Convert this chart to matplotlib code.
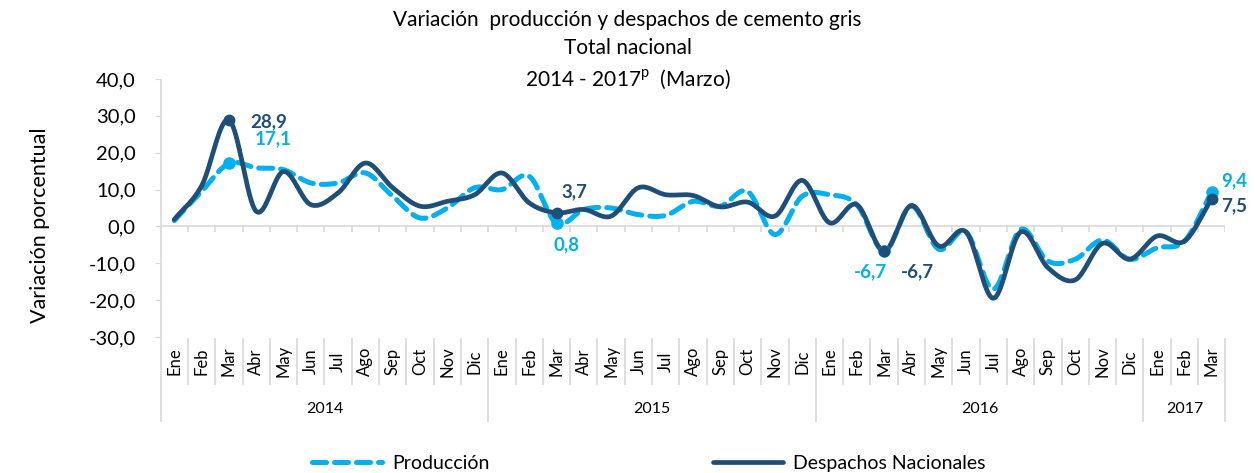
import numpy as np
import matplotlib
matplotlib.use('Agg')
import matplotlib.pyplot as plt
from matplotlib.lines import Line2D

plt.rcParams['font.family'] = ['Lato', 'DejaVu Sans']
plt.rcParams['mathtext.fontset'] = 'custom'
plt.rcParams['mathtext.rm'] = 'Lato'

# data
meses = ['Ene', 'Feb', 'Mar', 'Abr', 'May', 'Jun', 'Jul', 'Ago', 'Sep', 'Oct', 'Nov', 'Dic'] * 3 + ['Ene', 'Feb', 'Mar']
anios = ['2014', '2015', '2016', '2017']
meses_por_anio = [12, 12, 12, 3]

produccion = [1.6, 9.5, 17.1, 15.9, 15.4, 11.8, 11.8, 14.5, 8.2, 2.3, 5.0, 10.5,
              10.0, 13.6, 0.8, 4.6, 5.0, 3.2, 3.0, 6.8, 5.5, 9.5, -2.2, 8.2,
              8.6, 5.9, -6.7, 5.5, -6.2, -1.5, -17.0, -0.8, -9.4, -8.9, -3.7, -8.9,
              -5.8, -4.0, 9.4]
despachos = [1.9, 11.0, 28.9, 4.1, 14.9, 5.9, 9.1, 17.2, 10.5, 5.5, 6.8, 8.6,
             14.5, 6.4, 3.7, 4.6, 2.8, 10.5, 8.6, 8.4, 5.3, 6.6, 2.8, 12.5,
             1.0, 5.9, -6.7, 5.7, -5.3, -1.5, -19.5, -1.5, -11.2, -14.5, -4.6, -8.9,
             -2.6, -4.0, 7.5]

# points with value labels (index, text offset in points)
idx_marcados = [2, 14, 26, 38]
off_prod = {2: (32, 18), 14: (7, -15), 26: (-10, -15), 38: (16, 8)}
off_desp = {2: (29, -1.5), 14: (13, 15), 26: (24, -15), 38: (16, -5)}

c_prod = '#00B0F0'
c_desp = '#1F4E79'
gris = '#D9D9D9'


def suavizar(y, n=20):
    # catmull-rom, like excel's smoothed line
    y = np.asarray(y, float)
    p = np.concatenate([[2 * y[0] - y[1]], y, [2 * y[-1] - y[-2]]])
    xs, ys = [], []
    t = np.linspace(0, 1, n, endpoint=False)
    for i in range(len(y) - 1):
        p0, p1, p2, p3 = p[i], p[i + 1], p[i + 2], p[i + 3]
        yy = 0.5 * (2 * p1 + (-p0 + p2) * t + (2 * p0 - 5 * p1 + 4 * p2 - p3) * t ** 2
                    + (-p0 + 3 * p1 - 3 * p2 + p3) * t ** 3)
        xs.append(i + t)
        ys.append(yy)
    xs.append([len(y) - 1])
    ys.append([y[-1]])
    return np.concatenate(xs), np.concatenate(ys)


fig = plt.figure(figsize=(12.55, 4.73), dpi=100)
ax = fig.add_axes([0.128, 0.2875, 0.8484, 0.5455])

x = np.arange(len(meses))
xp, yp = suavizar(produccion)
xd, yd = suavizar(despachos)
ax.plot(xp, yp, color=c_prod, lw=3.6, dashes=(2.8, 1.6), dash_capstyle='round', zorder=3)
ax.plot(xd, yd, color=c_desp, lw=3.4, solid_capstyle='round', zorder=4)
ax.plot(x[idx_marcados], np.array(produccion)[idx_marcados], 'o', color=c_prod, ms=8, zorder=5)
ax.plot(x[idx_marcados], np.array(despachos)[idx_marcados], 'o', color=c_desp, ms=7.5, zorder=6)

for i in idx_marcados:
    ax.annotate(f'{produccion[i]:.1f}'.replace('.', ','), (i, produccion[i]), xytext=off_prod[i],
                textcoords='offset points', ha='center', va='center', color=c_prod,
                fontsize=13.5, fontweight='bold')
    ax.annotate(f'{despachos[i]:.1f}'.replace('.', ','), (i, despachos[i]), xytext=off_desp[i],
                textcoords='offset points', ha='center', va='center', color=c_desp,
                fontsize=13.5, fontweight='bold')

ax.set_xlim(-0.5, len(meses) - 0.5)
ax.set_ylim(-30, 40)
ax.set_yticks(np.arange(-30, 41, 10))
ax.set_yticklabels([f'{v:.1f}'.replace('.', ',') for v in np.arange(-30, 41, 10)], fontsize=14.5)
ax.set_xticks([])
ax.tick_params(axis='y', length=4, pad=14, color=gris)
for s in ['top', 'right', 'bottom', 'left']:
    ax.spines[s].set_visible(False)

# zero line with small ticks
ax.axhline(0, color=gris, lw=1.2, zorder=1)
bordes = np.arange(len(meses) + 1) - 0.5
ax.vlines(bordes, -1.6, 0, color=gris, lw=1.2, zorder=1)

# left axis line reaching the category area
ax.vlines(-0.5, -53.1, 40, color=gris, lw=1.2, clip_on=False)

# category labels below the plot
limites_anio = np.cumsum([0] + meses_por_anio)
for i, m in enumerate(meses):
    ax.text(i, -36.6, m, rotation=90, ha='center', va='center', fontsize=12, clip_on=False)
for k in range(1, len(meses)):
    if k in limites_anio:
        ax.vlines(k - 0.5, -53.1, -30.3, color=gris, lw=1.2, clip_on=False)
    else:
        ax.vlines(k - 0.5, -43.0, -30.3, color=gris, lw=1.2, clip_on=False)
ax.vlines(len(meses) - 0.5, -53.1, -30.3, color=gris, lw=1.2, clip_on=False)
for j, a in enumerate(anios):
    centro = (limites_anio[j] + limites_anio[j + 1] - 1) / 2
    ax.text(centro, -49.5, a, ha='center', va='center', fontsize=11.5, clip_on=False)

fig.text(0.5, 1 - 20 / 473, 'Variación  producción y despachos de cemento gris', ha='center', va='center', fontsize=15)
fig.text(0.5, 1 - 48 / 473, 'Total nacional', ha='center', va='center', fontsize=15)
fig.text(0.5, 1 - 79 / 473, '2014 - 2017$^{\\mathregular{p}}$  (Marzo)', ha='center', va='center', fontsize=15)
fig.text(40 / 1255, 1 - 225 / 473, 'Variación porcentual', rotation=90, ha='center', va='center', fontsize=15.5)

h1 = Line2D([], [], color=c_prod, lw=3.6, dashes=(2.8, 1.6), dash_capstyle='round')
h2 = Line2D([], [], color=c_desp, lw=3.4, solid_capstyle='round')
fig.legend([h1, h2], ['Producción', 'Despachos Nacionales'], loc='center', bbox_to_anchor=(0.517, 0.021),
           ncol=2, frameon=False, fontsize=14, handlelength=3.6, handletextpad=0.5, columnspacing=11.5)

fig.savefig('out.png', dpi=100)
